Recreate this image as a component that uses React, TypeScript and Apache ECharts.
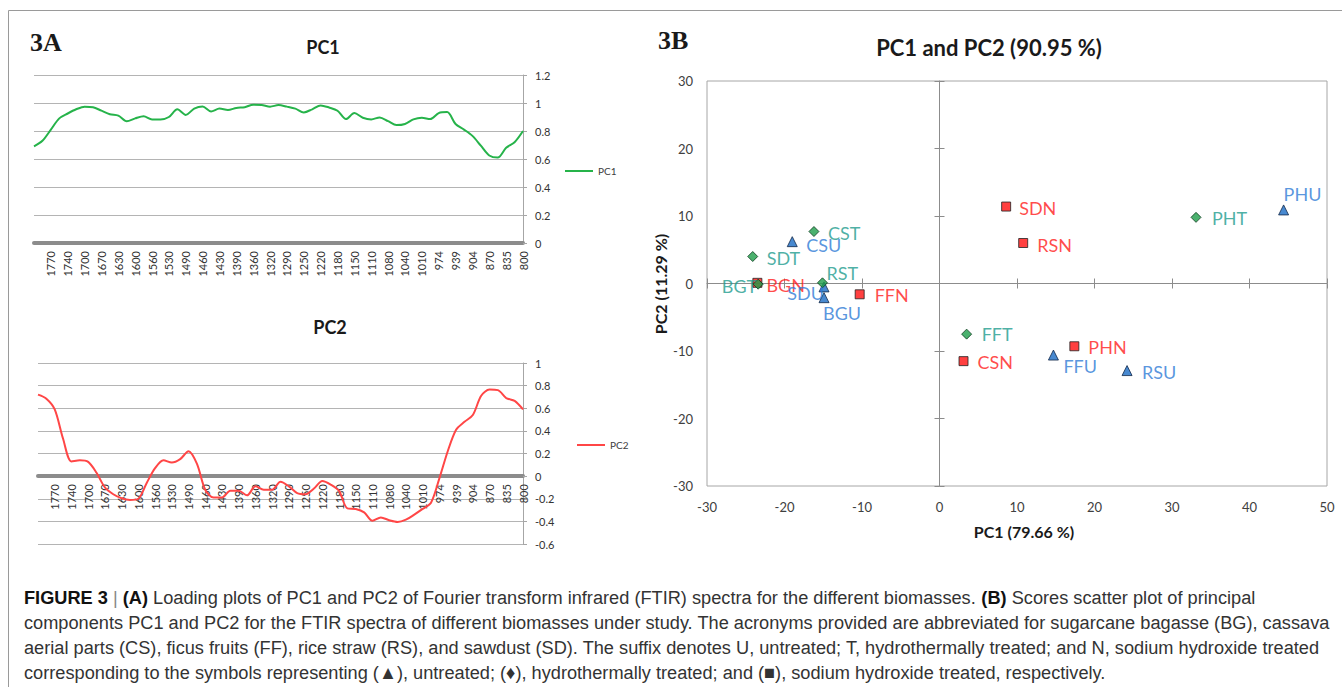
import React, { useEffect, useRef } from "react";
import * as echarts from "echarts";

// ---------- Loading plots (panel 3A) ----------
const wavenumbers = [
  "1805", "1788", "1770", "1755", "1740", "1720", "1700", "1685", "1670", "1650",
  "1630", "1615", "1600", "1580", "1560", "1545", "1530", "1510", "1490", "1475",
  "1460", "1445", "1430", "1410", "1390", "1375", "1360", "1340", "1320", "1305",
  "1290", "1270", "1250", "1235", "1220", "1200", "1180", "1165", "1150", "1130",
  "1110", "1095", "1080", "1060", "1040", "1025", "1010", "992", "974", "957",
  "939", "922", "904", "887", "870", "852", "835", "818", "800",
];
const tickLabels = [
  "1770", "1740", "1700", "1670", "1630", "1600", "1560", "1530", "1490", "1460",
  "1430", "1390", "1360", "1320", "1290", "1250", "1220", "1180", "1150", "1110",
  "1080", "1040", "1010", "974", "939", "904", "870", "835", "800",
];
const pc1Loadings = [
  0.69, 0.73, 0.81, 0.89, 0.925, 0.955, 0.974, 0.97, 0.945, 0.92,
  0.91, 0.87, 0.89, 0.905, 0.882, 0.882, 0.9, 0.955, 0.915, 0.96,
  0.975, 0.94, 0.96, 0.95, 0.965, 0.97, 0.988, 0.986, 0.974, 0.985,
  0.974, 0.96, 0.933, 0.955, 0.983, 0.968, 0.945, 0.885, 0.928, 0.895,
  0.883, 0.897, 0.87, 0.842, 0.85, 0.883, 0.895, 0.885, 0.928, 0.935,
  0.85, 0.81, 0.765, 0.695, 0.625, 0.61, 0.68, 0.72, 0.8,
];
const pc2Loadings = [
  0.72, 0.685, 0.59, 0.33, 0.13, 0.14, 0.126, 0.03, -0.1, -0.16,
  -0.195, -0.21, -0.2, -0.06, 0.07, 0.14, 0.12, 0.15, 0.22, 0.11,
  -0.12, -0.19, -0.19, -0.13, -0.13, -0.17, -0.09, -0.12, -0.12, -0.05,
  -0.09, -0.15, -0.16, -0.11, -0.044, -0.075, -0.13, -0.285, -0.29, -0.32,
  -0.395, -0.365, -0.39, -0.405, -0.385, -0.34, -0.29, -0.235, -0.02, 0.22,
  0.41, 0.48, 0.54, 0.71, 0.765, 0.76, 0.69, 0.665, 0.59,
];

// ---------- Scores (panel 3B) ----------
const untreatedNames = ["BGU", "CSU", "FFU", "RSU", "SDU", "PHU"];
const untreatedPC1 = [-14.9, -19.0, 14.7, 24.2, -14.9, 44.4];
const untreatedPC2 = [-2.1, 6.2, -10.6, -12.9, -0.5, 10.9];
const hydroNames = ["BGT", "CST", "FFT", "RST", "SDT", "PHT"];
const hydroPC1 = [-23.4, -16.2, 3.5, -15.1, -24.1, 33.1];
const hydroPC2 = [-0.1, 7.7, -7.5, 0.1, 4.0, 9.8];
const naohNames = ["BGN", "CSN", "FFN", "RSN", "SDN", "PHN"];
const naohPC1 = [-23.5, 3.1, -10.3, 10.8, 8.6, 17.4];
const naohPC2 = [0.1, -11.5, -1.6, 6.0, 11.4, -9.3];

// label placement (style only): [align, dx, dy]
const labelPlacement: Record<string, [string, number, number]> = {
  CST: ["left", 14, 1], CSU: ["left", 14, 3], SDT: ["left", 14, 1],
  BGT: ["right", -1, 2], BGN: ["left", 9, 2], RST: ["left", 4, -10],
  SDU: ["right", 0, 6], BGU: ["left", -1, 15], FFN: ["left", 15, 1],
  SDN: ["left", 13, 1], RSN: ["left", 14, 2], PHT: ["left", 16, 1],
  PHU: ["left", 0, -16], FFT: ["left", 15, 0], CSN: ["left", 14, 1],
  PHN: ["left", 14, 1], FFU: ["left", 10, 11], RSU: ["left", 15, 1],
};

const captionLines = [
  "{b|FIGURE 3} {p||} {b|(A)} Loading plots of PC1 and PC2 of Fourier transform infrared (FTIR) spectra for the different biomasses. {b|(B)} Scores scatter plot of principal",
  "components PC1 and PC2 for the FTIR spectra of different biomasses under study. The acronyms provided are abbreviated for sugarcane bagasse (BG), cassava",
  "aerial parts (CS), ficus fruits (FF), rice straw (RS), and sawdust (SD). The suffix denotes U, untreated; T, hydrothermally treated; and N, sodium hydroxide treated",
  "corresponding to the symbols representing (\u25B2), untreated; (\u2666), hydrothermally treated; and (\u25A0), sodium hydroxide treated, respectively.",
];

const FONT = "Lato";
const CAP_FONT = "Liberation Sans";

function makePoints(names: string[], xs: number[], ys: number[], color: string) {
  return names.map((n, i) => {
    const p = labelPlacement[n] || ["left", 14, 1];
    return {
      name: n,
      value: [xs[i], ys[i]],
      label: {
        show: true,
        position: "inside",
        align: p[0],
        verticalAlign: "middle",
        offset: [p[1], p[2]],
        formatter: "{b}",
        color,
        fontSize: 18,
        fontFamily: FONT,
      },
    };
  });
}

export default function App() {
  const ref = useRef<HTMLDivElement>(null);
  useEffect(() => {
    const el = ref.current!;
    const chart = echarts.init(el, null, { renderer: "svg" });

    const capSize = 19;
    let capScale = 0.92;
    try {
      const ctx = document.createElement("canvas").getContext("2d")!;
      ctx.font = `${capSize}px "${CAP_FONT}"`;
      const w = ctx.measureText(captionLines[1]).width;
      if (w > 0) capScale = 1306 / w;
    } catch (e) {}

    const tickSet = new Set(tickLabels);
    const catAxis = (gridIndex: number, offset: number) => ({
      type: "category",
      gridIndex,
      position: "bottom",
      offset,
      data: wavenumbers,
      boundaryGap: false,
      axisLine: { onZero: false, lineStyle: { color: "#8c8c8c", width: 4 } },
      axisTick: { show: false },
      axisLabel: {
        rotate: 90,
        interval: (idx: number, val: string) => tickSet.has(val),
        fontSize: 11,
        fontFamily: FONT,
        color: "#333",
        margin: 8,
      },
      splitLine: { show: false },
    });
    const valAxisRight = (gridIndex: number, min: number, max: number) => ({
      type: "value",
      gridIndex,
      position: "right",
      min,
      max,
      interval: 0.2,
      axisLine: { show: true, onZero: false, lineStyle: { color: "#a6a6a6", width: 1 } },
      axisTick: { show: true, length: 4, lineStyle: { color: "#a6a6a6" } },
      axisLabel: { fontSize: 11, fontFamily: FONT, color: "#333", margin: 12 },
      splitLine: { show: true, lineStyle: { color: "#b4b4b4", width: 1 } },
    });

    // PC2 grid: top 363, height 181, range -0.6..1 -> zero sits above the bottom edge
    const pc2ZeroOffset = -(181 * 0.6) / 1.6;

    const sx = { type: "value", gridIndex: 2, min: -30, max: 50, interval: 10 };
    const sy = { type: "value", gridIndex: 2, min: -30, max: 30, interval: 10 };
    const axisGray = "#8c8c8c";

    const mkText = (text: string, x: number, y: number, size: number, weight: string, family: string, align = "center", rotation = 0) => ({
      type: "text",
      x,
      y,
      rotation,
      style: {
        text,
        fill: "#1a1a1a",
        fontSize: size,
        fontWeight: weight,
        fontFamily: family,
        align,
        verticalAlign: "middle",
      },
      silent: true,
    });

    const captionGraphics = captionLines.map((t, i) => ({
      type: "text",
      x: 24,
      y: 597 + i * 25,
      scaleX: capScale,
      style: {
        text: t,
        fill: "#333",
        fontSize: capSize,
        fontFamily: CAP_FONT,
        verticalAlign: "middle",
        align: "left",
        rich: {
          b: { fontWeight: "bold", fontSize: capSize, fontFamily: CAP_FONT, fill: "#111" },
          p: { fontSize: capSize, fontFamily: CAP_FONT, fill: "#888" },
        },
      },
      silent: true,
    }));

    const option: any = {
      animation: false,
      backgroundColor: "#ffffff",
      textStyle: { fontFamily: FONT },
      grid: [
        { left: 34, top: 75, width: 489, height: 168, show: false },
        { left: 38, top: 363, width: 485, height: 181, show: false },
        { left: 707, top: 81, width: 620, height: 405, show: true, borderColor: "#a6a6a6", borderWidth: 1 },
      ],
      xAxis: [
        catAxis(0, 0),
        catAxis(1, pc2ZeroOffset),
        {
          ...sx,
          position: "bottom",
          axisLine: { show: false, onZero: false },
          axisTick: { show: false },
          axisLabel: { fontSize: 13, fontFamily: FONT, color: "#404040", margin: 14 },
          splitLine: { show: false },
        },
        {
          ...sx,
          position: "bottom",
          axisLine: { show: true, onZero: true, onZeroAxisIndex: 2, lineStyle: { color: axisGray } },
          axisTick: { show: true, inside: false, length: 5, lineStyle: { color: axisGray } },
          axisLabel: { show: false },
          splitLine: { show: false },
        },
        {
          ...sx,
          position: "bottom",
          axisLine: { show: false, onZero: true, onZeroAxisIndex: 2 },
          axisTick: { show: true, inside: true, length: 5, lineStyle: { color: axisGray } },
          axisLabel: { show: false },
          splitLine: { show: false },
        },
      ],
      yAxis: [
        valAxisRight(0, 0, 1.2),
        valAxisRight(1, -0.6, 1),
        {
          ...sy,
          position: "left",
          axisLine: { show: false, onZero: false },
          axisTick: { show: false },
          axisLabel: { fontSize: 13, fontFamily: FONT, color: "#404040", margin: 14 },
          splitLine: { show: false },
        },
        {
          ...sy,
          position: "left",
          axisLine: { show: true, onZero: true, onZeroAxisIndex: 2, lineStyle: { color: axisGray } },
          axisTick: { show: true, inside: false, length: 5, lineStyle: { color: axisGray } },
          axisLabel: { show: false },
          splitLine: { show: false },
        },
        {
          ...sy,
          position: "left",
          axisLine: { show: false, onZero: true, onZeroAxisIndex: 2 },
          axisTick: { show: true, inside: true, length: 5, lineStyle: { color: axisGray } },
          axisLabel: { show: false },
          splitLine: { show: false },
        },
      ],
      legend: [
        {
          data: ["PC1"],
          left: 565,
          top: 166,
          padding: 0,
          icon: "rect",
          itemWidth: 28,
          itemHeight: 2,
          textStyle: { fontSize: 10, fontFamily: FONT, color: "#404040" },
        },
        {
          data: ["PC2"],
          left: 577,
          top: 440,
          padding: 0,
          icon: "rect",
          itemWidth: 28,
          itemHeight: 2,
          textStyle: { fontSize: 10, fontFamily: FONT, color: "#404040" },
        },
      ],
      series: [
        {
          name: "PC1",
          type: "line",
          xAxisIndex: 0,
          yAxisIndex: 0,
          data: pc1Loadings,
          showSymbol: false,
          smooth: 0.3,
          lineStyle: { color: "#26b34a", width: 2 },
          itemStyle: { color: "#26b34a" },
        },
        {
          name: "PC2",
          type: "line",
          xAxisIndex: 1,
          yAxisIndex: 1,
          data: pc2Loadings,
          showSymbol: false,
          smooth: 0.3,
          lineStyle: { color: "#ff4646", width: 2 },
          itemStyle: { color: "#ff4646" },
        },
        {
          name: "Sodium hydroxide treated",
          type: "scatter",
          xAxisIndex: 2,
          yAxisIndex: 2,
          symbol: "rect",
          symbolSize: 9,
          itemStyle: { color: "#ff1010", borderColor: "#222", borderWidth: 1 },
          data: makePoints(naohNames, naohPC1, naohPC2, "#ff1a1a"),
        },
        {
          name: "Untreated",
          type: "scatter",
          xAxisIndex: 2,
          yAxisIndex: 2,
          symbol: "triangle",
          symbolSize: 10,
          itemStyle: { color: "#1a6cc4", borderColor: "#10284a", borderWidth: 1 },
          data: makePoints(untreatedNames, untreatedPC1, untreatedPC2, "#2e7bd6"),
        },
        {
          name: "Hydrothermally treated",
          type: "scatter",
          xAxisIndex: 2,
          yAxisIndex: 2,
          symbol: "diamond",
          symbolSize: 10,
          itemStyle: { color: "#1e9e4a", borderColor: "#0e3d1f", borderWidth: 1 },
          data: makePoints(hydroNames, hydroPC1, hydroPC2, "#1e9c8e"),
        },
      ],
      graphic: [
        {
          type: "rect",
          shape: { x: 8.5, y: 10.5, width: 1345, height: 690 },
          style: { fill: "none", stroke: "#9a9a9a", lineWidth: 1 },
          silent: true,
        },
        mkText("3A", 30, 42, 26, "bold", "Liberation Serif", "left"),
        mkText("3B", 658, 40, 26, "bold", "Liberation Serif", "left"),
        mkText("PC1", 323, 47, 18, "bold", FONT),
        mkText("PC2", 330, 327, 18, "bold", FONT),
        mkText("PC1 and PC2 (90.95 %)", 989, 47, 22, "bold", FONT),
        mkText("PC1 (79.66 %)", 1024, 531, 16, "bold", FONT),
        mkText("PC2 (11.29 %)", 660, 284, 16, "bold", FONT, "center", Math.PI / 2),
        ...captionGraphics,
      ],
    };

    chart.setOption(option);
    return () => chart.dispose();
  }, []);

  return (
    <div
      ref={ref}
      style={{ position: "absolute", left: 0, top: 0, width: 1342, height: 687, background: "#fff" }}
    />
  );
}
